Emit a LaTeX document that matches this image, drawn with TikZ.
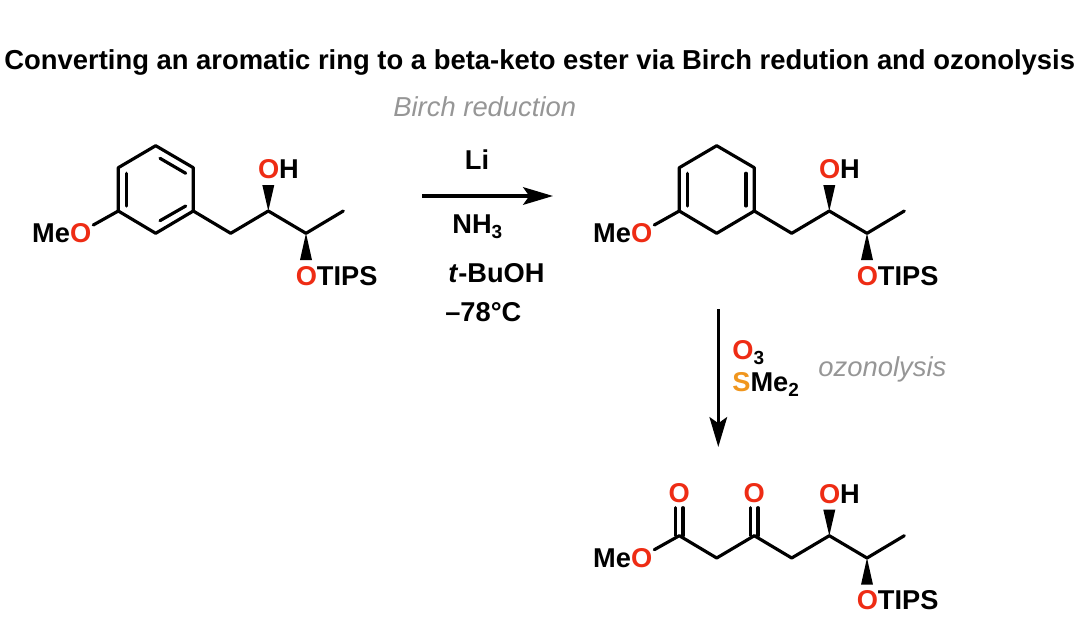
\documentclass[tikz,border=0pt]{standalone}
\usepackage{fontspec}
\setmainfont{Liberation Sans}
\usetikzlibrary{arrows.meta}
\definecolor{oxy}{RGB}{238,44,20}
\definecolor{sulf}{RGB}{240,150,30}
\definecolor{note}{RGB}{150,150,150}
\tikzset{bond/.style = {line width=1.8pt, line join=round, line cap=round},
         rxn/.style = {line width=1.9pt, -{Stealth[length=17pt, width=10pt, inset=3.5pt]}},
         atom/.style = {font=\fontsize{15.5}{17}\selectfont\bfseries, inner sep=0pt},
         remark/.style = {font=\fontsize{15.6}{17}\selectfont\itshape, text=note, inner sep=0pt, anchor=base west}}
\newcommand{\ox}{\textcolor{oxy}{O}}
\newcommand{\lowered}[1]{\raisebox{-3.2pt}{\fontsize{10.8}{12}\selectfont #1}}
\newcommand{\sidechain}{
    \coordinate (c0) at (193.3, 211);
    \coordinate (ch2) at (230.7, 233.3);
    \coordinate (coh) at (268.3, 211);
    \coordinate (cotips) at (306, 233.3);
    \coordinate (ch3) at (343.3, 211);
    \coordinate (omeo) at (93.3, 225);
    \draw [bond] (c0) -- (ch2) -- (coh) -- (cotips) -- (ch3);
    \fill (coh) -- (262.3, 185) -- (274.3, 185) -- cycle;
    \fill (cotips) -- (300, 260) -- (312, 260) -- cycle;
    \node [atom, anchor=base west] (oh) at (257.7, 178.3) {\ox H};
    \node [atom, anchor=base west] (otips) at (295.4, 285) {\ox TIPS};
    \node [atom, anchor=base east] (meo) at (91.6, 242.5) {Me\ox};
}
\begin{document}
\begin{tikzpicture}[x=0.02cm, y=-0.02cm]
    \useasboundingbox (0, 0) rectangle (1083, 632);

    \node [atom, anchor=base west, font=\fontsize{15.6}{17}\selectfont\bfseries] (title) at (4, 70) {Converting an aromatic ring to a beta-keto ester via Birch redution and ozonolysis};
    \node [remark] (birch) at (393, 116) {Birch reduction};
    \node [remark] (ozone) at (818, 376) {ozonolysis};

    % starting material
    \begin{scope}[name prefix=a-]
        \sidechain
        \coordinate (c1) at (155.7, 233.3);
        \coordinate (c2) at (118.3, 211);
        \coordinate (c3) at (118.3, 167.7);
        \coordinate (c4) at (155.7, 145.7);
        \coordinate (c5) at (193.3, 167.7);
        \draw [bond] (c0) -- (c1) -- (c2) -- (c3) -- (c4) -- (c5) -- cycle;
        \draw [bond] (c2) -- (omeo);
        \draw [bond] (185.7, 206) -- (160, 220.7);
        \draw [bond] (126.7, 206) -- (126.7, 173.3);
        \draw [bond] (160, 158.3) -- (185.7, 173.3);
    \end{scope}

    % Birch product
    \begin{scope}[name prefix=b-, shift={(561, 0)}]
        \sidechain
        \coordinate (c1) at (155.7, 233.3);
        \coordinate (c2) at (118.3, 211);
        \coordinate (c3) at (118.3, 167.7);
        \coordinate (c4) at (155.7, 145.7);
        \coordinate (c5) at (193.3, 167.7);
        \draw [bond] (c0) -- (c1) -- (c2) -- (c3) -- (c4) -- (c5) -- cycle;
        \draw [bond] (c2) -- (omeo);
        \draw [bond] (126.7, 206) -- (126.7, 173.3);
        \draw [bond] (185, 206) -- (185, 173.3);
    \end{scope}

    % ozonolysis product
    \begin{scope}[name prefix=d-, shift={(561, 324.7)}]
        \sidechain
        \coordinate (c1) at (155.7, 233.3);
        \coordinate (c2) at (118.3, 211);
        \draw [bond] (c0) -- (c1) -- (c2) -- (omeo);
        \node [atom] (ketone) at (193.3, 168.5) {\ox};
        \node [atom] (ester) at (118.3, 168.5) {\ox};
        \draw [bond] (189.6, 211) -- (189.6, 183);
        \draw [bond] (197, 211) -- (197, 183);
        \draw [bond] (114.6, 211) -- (114.6, 183);
        \draw [bond] (122, 211) -- (122, 183);
    \end{scope}

    % reaction arrows
    \coordinate (birchstart) at (422, 196);
    \coordinate (birchend) at (553, 196);
    \coordinate (ozonestart) at (718.3, 309);
    \coordinate (ozoneend) at (718.3, 447);
    \draw [rxn] (birchstart) -- (birchend);
    \draw [rxn] (ozonestart) -- (ozoneend);

    \node [atom, anchor=base] (li) at (477, 169) {Li};
    \node [atom, anchor=base west] (nh3) at (452, 233) {NH\lowered{3}};
    \node [atom, anchor=base west] (buoh) at (448, 282) {\textit{t}-BuOH};
    \node [atom, anchor=base west] (temp) at (445, 321) {–78°C};
    \node [atom, anchor=base west] (o3) at (732, 359) {\ox\lowered{3}};
    \node [atom, anchor=base west] (sme2) at (732, 391) {\textcolor{sulf}{S}Me\lowered{2}};
\end{tikzpicture}
\end{document}
